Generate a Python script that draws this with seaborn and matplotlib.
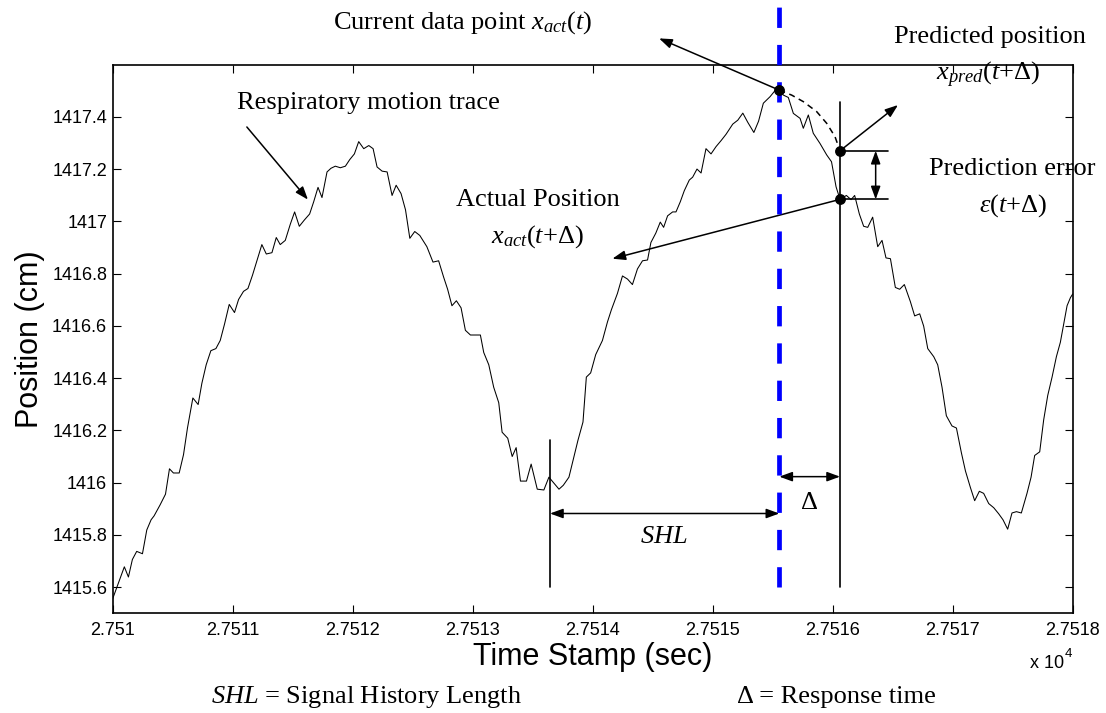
import matplotlib
matplotlib.use("Agg")
import matplotlib.pyplot as plt
from matplotlib.ticker import FuncFormatter
import seaborn as sns

# Respiratory motion trace (time stamp in sec, position in cm)
trace_time = [
    27510.000, 27510.097, 27510.131, 27510.164, 27510.200, 27510.248, 27510.284, 27510.320,
    27510.345, 27510.395, 27510.440, 27510.473, 27510.506, 27510.554, 27510.590, 27510.623,
    27510.668, 27510.712, 27510.743, 27510.779, 27510.818, 27510.860, 27510.896, 27510.932,
    27510.971, 27511.015, 27511.049, 27511.090, 27511.127, 27511.165, 27511.202, 27511.243,
    27511.280, 27511.327, 27511.363, 27511.396, 27511.438, 27511.480, 27511.516, 27511.555,
    27511.597, 27511.641, 27511.675, 27511.711, 27511.744, 27511.786, 27511.819, 27511.855,
    27511.897, 27511.939, 27511.975, 27512.014, 27512.050, 27512.092, 27512.134, 27512.170,
    27512.203, 27512.245, 27512.287, 27512.328, 27512.362, 27512.403, 27512.440, 27512.476,
    27512.517, 27512.559, 27512.618, 27512.669, 27512.716, 27512.758, 27512.791, 27512.827,
    27512.864, 27512.903, 27512.939, 27512.981, 27513.064, 27513.092, 27513.134, 27513.175,
    27513.217, 27513.245, 27513.292, 27513.329, 27513.362, 27513.398, 27513.448, 27513.487,
    27513.538, 27513.593, 27513.635, 27513.677, 27513.719, 27513.755, 27513.802, 27513.844,
    27513.877, 27513.919, 27513.947, 27513.983, 27514.025, 27514.081, 27514.123, 27514.156,
    27514.206, 27514.248, 27514.290, 27514.331, 27514.373, 27514.415, 27514.457, 27514.485,
    27514.526, 27514.563, 27514.591, 27514.624, 27514.666, 27514.694, 27514.730, 27514.763,
    27514.805, 27514.833, 27514.869, 27514.903, 27514.944, 27514.986, 27515.028, 27515.070,
    27515.111, 27515.167, 27515.209, 27515.251, 27515.292, 27515.343, 27515.382, 27515.422,
    27515.478, 27515.519, 27515.555, 27515.589, 27515.630, 27515.672, 27515.728, 27515.755,
    27515.797, 27515.838, 27515.894, 27515.950, 27515.990, 27516.028, 27516.061, 27516.114,
    27516.153, 27516.183, 27516.222, 27516.258, 27516.292, 27516.333, 27516.375, 27516.411,
    27516.444, 27516.481, 27516.522, 27516.558, 27516.597, 27516.647, 27516.683, 27516.725,
    27516.758, 27516.792, 27516.842, 27516.875, 27516.911, 27516.947, 27516.994, 27517.031,
    27517.072, 27517.106, 27517.147, 27517.183, 27517.222, 27517.258, 27517.300, 27517.342,
    27517.383, 27517.419, 27517.458, 27517.494, 27517.531, 27517.572, 27517.619, 27517.653,
    27517.683, 27517.725, 27517.758, 27517.792, 27517.828, 27517.864, 27517.897, 27517.925,
    27517.953, 27517.981, 27518.000,
]
trace_pos = [
    1415.556, 1415.678, 1415.639, 1415.706, 1415.737, 1415.728, 1415.819, 1415.858,
    1415.873, 1415.915, 1415.956, 1416.053, 1416.037, 1416.037, 1416.107, 1416.209,
    1416.324, 1416.299, 1416.380, 1416.451, 1416.505, 1416.513, 1416.544, 1416.607,
    1416.682, 1416.651, 1416.701, 1416.732, 1416.743, 1416.794, 1416.849, 1416.911,
    1416.875, 1416.880, 1416.938, 1416.911, 1416.927, 1416.989, 1417.036, 1416.981,
    1417.005, 1417.028, 1417.075, 1417.130, 1417.091, 1417.189, 1417.203, 1417.211,
    1417.205, 1417.211, 1417.236, 1417.258, 1417.305, 1417.278, 1417.290, 1417.278,
    1417.208, 1417.192, 1417.189, 1417.099, 1417.138, 1417.106, 1417.044, 1416.935,
    1416.961, 1416.946, 1416.903, 1416.844, 1416.849, 1416.786, 1416.740, 1416.677,
    1416.696, 1416.669, 1416.583, 1416.565, 1416.565, 1416.498, 1416.451, 1416.365,
    1416.306, 1416.193, 1416.170, 1416.100, 1416.134, 1416.006, 1416.006, 1416.071,
    1415.975, 1415.972, 1416.021, 1415.998, 1415.975, 1415.990, 1416.021, 1416.100,
    1416.162, 1416.232, 1416.404, 1416.420, 1416.490, 1416.544, 1416.615, 1416.662,
    1416.724, 1416.791, 1416.779, 1416.758, 1416.818, 1416.849, 1416.852, 1416.919,
    1416.955, 1416.997, 1416.977, 1417.021, 1417.036, 1417.036, 1417.075, 1417.117,
    1417.158, 1417.169, 1417.200, 1417.185, 1417.278, 1417.258, 1417.286, 1417.309,
    1417.333, 1417.372, 1417.387, 1417.414, 1417.379, 1417.340, 1417.383, 1417.452,
    1417.477, 1417.500, 1417.502, 1417.483, 1417.474, 1417.413, 1417.394, 1417.356,
    1417.407, 1417.337, 1417.298, 1417.254, 1417.228, 1417.132, 1417.084, 1417.099,
    1417.083, 1417.099, 1417.028, 1416.981, 1416.977, 1417.016, 1416.903, 1416.927,
    1416.860, 1416.857, 1416.747, 1416.740, 1416.758, 1416.693, 1416.638, 1416.646,
    1416.599, 1416.513, 1416.482, 1416.451, 1416.365, 1416.256, 1416.217, 1416.209,
    1416.115, 1416.045, 1415.982, 1415.931, 1415.967, 1415.959, 1415.920, 1415.904,
    1415.881, 1415.858, 1415.822, 1415.884, 1415.889, 1415.884, 1415.959, 1416.021,
    1416.104, 1416.118, 1416.240, 1416.334, 1416.404, 1416.482, 1416.537, 1416.607,
    1416.677, 1416.708, 1416.722,
]

# Predicted path from the current sample to the predicted position
pred_time = [27515.555, 27515.658, 27515.755, 27515.866, 27515.950, 27516.019, 27516.061]
pred_pos = [1417.502, 1417.483, 1417.458, 1417.420, 1417.375, 1417.324, 1417.270]

# Key instants and positions
t_shl_start = 27513.644
t_now = 27515.555
t_future = 27516.061
x_now = 1417.502
x_pred = 1417.270
x_actual = 1417.084

x_ticks = [27510, 27511, 27512, 27513, 27514, 27515, 27516, 27517, 27518]
y_ticks = [1415.6, 1415.8, 1416.0, 1416.2, 1416.4, 1416.6, 1416.8, 1417.0, 1417.2, 1417.4]

sns.set_theme(style="ticks")
plt.rcParams["font.family"] = ["Liberation Sans", "DejaVu Sans"]
plt.rcParams["mathtext.fontset"] = "custom"
plt.rcParams["mathtext.rm"] = "Liberation Serif"
plt.rcParams["mathtext.it"] = "Liberation Serif:italic"
plt.rcParams["mathtext.bf"] = "Liberation Serif:bold"
for key in ("text.color", "axes.labelcolor", "xtick.color", "ytick.color", "axes.edgecolor"):
    plt.rcParams[key] = "black"

fig = plt.figure(figsize=(11.06, 7.13), dpi=100, facecolor="white")
ax = fig.add_axes([0.1019, 0.1398, 0.8680, 0.7697])
ax.set_facecolor("white")

sns.lineplot(x=trace_time, y=trace_pos, ax=ax, color="black", linewidth=0.75,
             estimator=None, sort=False, legend=False)

ax.set_xlim(27510, 27518)
ax.set_ylim(1415.5, 1417.6)
ax.set_xticks(x_ticks)
ax.set_yticks(y_ticks)
ax.xaxis.set_major_formatter(FuncFormatter(lambda v, p: f"{v / 1e4:g}"))
ax.yaxis.set_major_formatter(FuncFormatter(lambda v, p: f"{v:g}"))
for s in ax.spines.values():
    s.set_visible(True)
    s.set_linewidth(1.2)
    s.set_color("black")
ax.tick_params(axis="both", direction="in", length=5.8, width=0.8, colors="black",
               labelcolor="black", top=True, right=True, labelsize=13)
ax.tick_params(axis="x", pad=6.5)
ax.tick_params(axis="y", pad=4)

ax.set_xlabel("Time Stamp (sec)", fontsize=22, color="black")
ax.set_ylabel("Position (cm)", fontsize=22, color="black")
ax.xaxis.set_label_coords(0.5, -0.052)
ax.yaxis.set_label_coords(-0.071, 0.5)

ax.text(0.9555, -0.0911, "x 10", transform=ax.transAxes, fontsize=13,
        ha="left", va="center", color="black")
ax.text(0.9951, -0.0742, "4", transform=ax.transAxes, fontsize=9.5,
        ha="center", va="center", color="black")

serif = dict(family="Liberation Serif", fontsize=19, color="black", clip_on=False)
head = dict(arrowstyle="-|>,head_length=0.6,head_width=0.22", color="black",
            lw=1.1, shrinkA=0, shrinkB=0, mutation_scale=13)
both = dict(arrowstyle="<|-|>,head_length=0.6,head_width=0.22", color="black",
            lw=1.1, shrinkA=0, shrinkB=0, mutation_scale=13)

# current sample marker line
ax.plot([t_now, t_now], [1415.6, 1417.824], color="#0000ff", lw=3.4,
        dashes=(4.3, 3.6), clip_on=False, zorder=4)

# predicted path
ax.plot(pred_time, pred_pos, color="black", lw=1.1, dashes=(4, 3), zorder=3)

# reference lines
ax.plot([t_future, t_future], [1415.6, 1417.458], color="black", lw=1.2, zorder=3)
ax.plot([t_shl_start, t_shl_start], [1415.6, 1416.163], color="black", lw=1.2, zorder=3)
ax.plot([t_future, 27516.464], [x_pred, x_pred], color="black", lw=1.2, zorder=3)
ax.plot([t_future, 27516.464], [x_actual, x_actual], color="black", lw=1.2, zorder=3)

# markers
ax.plot([t_now, t_future, t_future], [x_now, x_pred, x_actual], "o", color="black",
        markersize=6.8, zorder=6, clip_on=False)

# arrows
ax.annotate("", xy=(27511.627, 1417.083), xytext=(27511.118, 1417.361),
            arrowprops=head, annotation_clip=False)
ax.annotate("", xy=(27514.553, 1417.700), xytext=(t_now, x_now),
            arrowprops=head, annotation_clip=False)
ax.annotate("", xy=(27516.544, 1417.445), xytext=(t_future, x_pred),
            arrowprops=head, annotation_clip=False)
ax.annotate("", xy=(27514.164, 1416.857), xytext=(t_future, x_actual),
            arrowprops=head, annotation_clip=False)
ax.annotate("", xy=(27516.358, x_actual), xytext=(27516.358, x_pred),
            arrowprops=both, annotation_clip=False)
ax.annotate("", xy=(t_now, 1415.882), xytext=(t_shl_start, 1415.882),
            arrowprops=both, annotation_clip=False)
ax.annotate("", xy=(t_future, 1416.023), xytext=(t_now, 1416.023),
            arrowprops=both, annotation_clip=False)

# labels
ax.text(27512.131, 1417.453, "Respiratory motion trace", ha="center", va="center", **serif)
ax.text(27512.919, 1417.762, r"Current data point $x_{act}(t)$", ha="center", va="center", **serif)
ax.text(27517.311, 1417.706, "Predicted position", ha="center", va="center", **serif)
ax.text(27517.294, 1417.560, r"$x_{pred}(t{+}\Delta)$", ha="center", va="center", **serif)
ax.text(27517.494, 1417.200, "Prediction error", ha="center", va="center", **serif)
ax.text(27517.500, 1417.062, r"$\varepsilon(t{+}\Delta)$", ha="center", va="center", **serif)
ax.text(27513.543, 1417.083, "Actual Position", ha="center", va="center", **serif)
ax.text(27513.538, 1416.943, r"$x_{act}(t{+}\Delta)$", ha="center", va="center", **serif)
ax.text(27514.589, 1415.793, r"$SHL$", ha="center", va="center", **serif)
ax.text(27515.805, 1415.921, "\u0394", ha="center", va="center", **serif)
ax.text(27512.115, 1415.179, r"$SHL$ = Signal History Length", ha="center", va="center", **serif)
ax.text(27516.028, 1415.179, "\u0394 = Response time", ha="center", va="center", **serif)

fig.savefig("out.png", dpi=100, facecolor="white")
